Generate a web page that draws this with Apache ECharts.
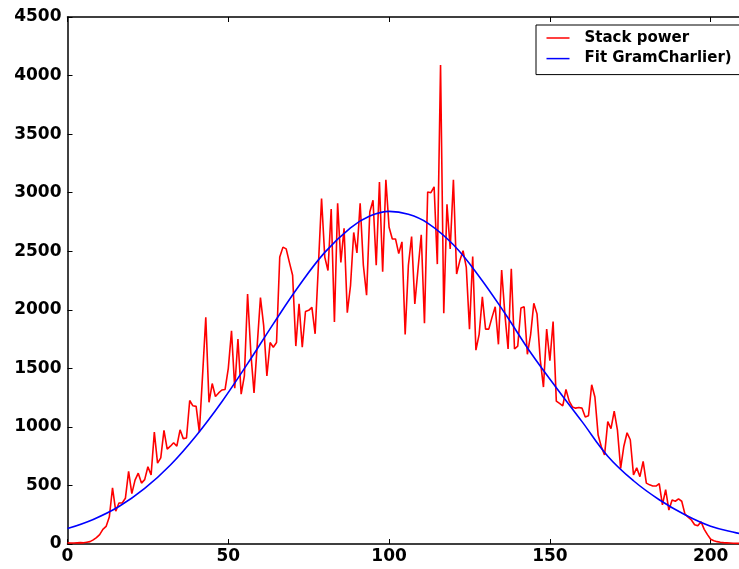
<!DOCTYPE html>
<html>
<head>
<meta charset="utf-8">
<script src="https://cdn.jsdelivr.net/npm/echarts@6/dist/echarts.min.js"></script>
<style>
html,body{margin:0;padding:0;background:#fff;}
#chart{width:739px;height:569px;}
</style>
</head>
<body>
<div id="chart"></div>
<script>
// Red series: one sample per x = 0..209
const stackPower = [
  10, 8, 8, 10, 12, 10, 15, 20, 35, 55,
  80, 125, 150, 230, 480, 280, 350, 350, 390, 620,
  430, 545, 605, 520, 550, 660, 590, 955, 690, 735,
  970, 810, 835, 865, 835, 975, 900, 905, 1225, 1180,
  1175, 955, 1440, 1935, 1210, 1370, 1260, 1290, 1315, 1320,
  1500, 1820, 1330, 1750, 1280, 1435, 2135, 1635, 1290, 1700,
  2105, 1865, 1435, 1720, 1680, 1720, 2450, 2535, 2520, 2405,
  2295, 1690, 2050, 1680, 1985, 1995, 2020, 1795, 2370, 2950,
  2450, 2335, 2860, 1895, 2910, 2405, 2695, 1975, 2205, 2660,
  2485, 2910, 2380, 2125, 2835, 2935, 2380, 3090, 2325, 3110,
  2705, 2605, 2605, 2480, 2580, 1790, 2380, 2625, 2050, 2350,
  2640, 1885, 3005, 3000, 3050, 2390, 4090, 1970, 2900, 2520,
  3110, 2305, 2420, 2505, 2365, 1835, 2455, 1655, 1790, 2110,
  1835, 1835, 1935, 2025, 1705, 2340, 1965, 1665, 2350, 1665,
  1690, 2015, 2025, 1620, 1785, 2055, 1965, 1575, 1340, 1835,
  1565, 1900, 1220, 1200, 1180, 1320, 1220, 1170, 1160, 1165,
  1160, 1085, 1095, 1360, 1255, 930, 830, 760, 1045, 985,
  1135, 975, 645, 835, 950, 890, 590, 650, 575, 705,
  520, 505, 495, 495, 515, 335, 465, 290, 375, 365,
  385, 365, 255, 230, 205, 165, 155, 190, 125, 80,
  40, 28, 20, 15, 12, 10, 8, 6, 5, 5
];
// Blue fit curve, read at sample positions
const fitX = [0, 8, 16, 24, 32, 40, 48, 56, 64, 72, 80, 88, 94, 100, 106, 112, 120, 128, 136, 144, 152, 160, 168, 176, 184, 192, 200, 208, 210];
const fitY = [132, 210, 320, 475, 675, 925, 1215, 1540, 1880, 2205, 2490, 2700, 2800, 2840, 2815, 2740, 2555, 2285, 1970, 1635, 1335, 1045, 750, 540, 378, 250, 152, 95, 85];

const xTicks = {min: 0, max: 220, interval: 50};
const yTicks = {min: 0, max: 4500, interval: 500};
const seriesNames = ['Stack power', 'Fit GramCharlier)'];

const chart = echarts.init(document.getElementById('chart'), null, {renderer: 'canvas'});
const font = 'DejaVu Sans';
const axisLineStyle = {color: '#000', width: 1.5};
const tickStyle = {show: true, inside: true, length: 5, lineStyle: {color: '#000', width: 1}};
const labelStyle = {color: '#000', fontWeight: 'bold', fontSize: 17, fontFamily: font, formatter: v => String(v)};

chart.setOption({
  animation: false,
  backgroundColor: '#fff',
  grid: {left: 67.5, right: -36, top: 17, bottom: 25, containLabel: false, outerBoundsMode: 'none'},
  xAxis: [
    {type: 'value', min: xTicks.min, max: xTicks.max, interval: xTicks.interval, position: 'bottom',
     axisLine: {show: true, onZero: false, lineStyle: axisLineStyle},
     axisTick: tickStyle,
     axisLabel: Object.assign({margin: 4}, labelStyle),
     splitLine: {show: false}},
    {type: 'value', min: xTicks.min, max: xTicks.max, interval: xTicks.interval, position: 'top',
     axisLine: {show: true, onZero: false, lineStyle: axisLineStyle},
     axisTick: tickStyle,
     axisLabel: {show: false},
     splitLine: {show: false}}
  ],
  yAxis: [
    {type: 'value', min: yTicks.min, max: yTicks.max, interval: yTicks.interval,
     axisLine: {show: true, onZero: false, lineStyle: axisLineStyle},
     axisTick: tickStyle,
     axisLabel: Object.assign({margin: 6}, labelStyle),
     splitLine: {show: false}}
  ],
  legend: {
    orient: 'vertical',
    left: 536, top: 25,
    padding: [4.5, 20, 7.5, 10.5],
    itemGap: 3.6,
    itemWidth: 23, itemHeight: 1.5,
    icon: 'rect',
    borderColor: '#000', borderWidth: 1,
    backgroundColor: '#fff',
    textStyle: {color: '#000', fontWeight: 'bold', fontSize: 15, fontFamily: font, lineHeight: 17, padding: [0, 0, 0, 10]},
    data: seriesNames
  },
  series: [
    {name: seriesNames[0], type: 'line', xAxisIndex: 0, yAxisIndex: 0,
     data: stackPower.map((v, i) => [i, v]),
     symbol: 'none', showSymbol: false,
     itemStyle: {color: '#ff0000'},
     lineStyle: {color: '#ff0000', width: 1.6}},
    {name: seriesNames[1], type: 'line', xAxisIndex: 0, yAxisIndex: 0,
     data: fitX.map((x, i) => [x, fitY[i]]),
     smooth: 0.4,
     symbol: 'none', showSymbol: false,
     itemStyle: {color: '#0000ff'},
     lineStyle: {color: '#0000ff', width: 1.6}}
  ]
});
</script>
</body>
</html>
